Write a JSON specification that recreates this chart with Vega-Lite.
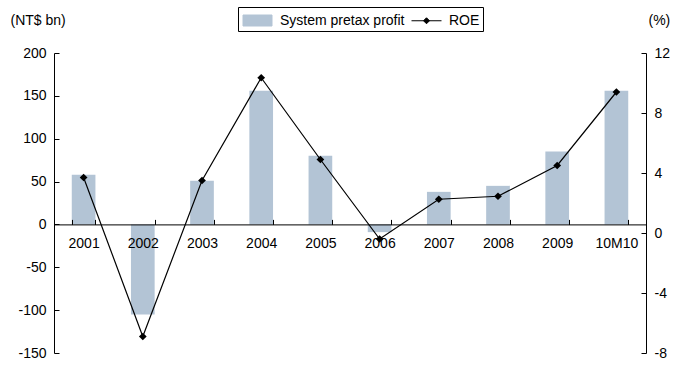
{
  "$schema": "https://vega.github.io/schema/vega-lite/v6.json",
  "autosize": "none",
  "width": 592,
  "height": 300,
  "padding": {"left": 54, "top": 53, "right": 38, "bottom": 30},
  "background": "white",
  "config": {
    "view": {"stroke": null},
    "font": "Liberation Sans",
    "axis": {
      "labelFont": "Liberation Sans",
      "labelFontSize": 14,
      "labelColor": "black",
      "titleFont": "Liberation Sans",
      "titleFontSize": 14,
      "titleFontWeight": "normal",
      "titleColor": "black",
      "domainColor": "black",
      "tickColor": "black",
      "tickWidth": 1,
      "grid": false
    }
  },
  "data": {
    "values": [
      {"year": "2001", "profit": 58, "roe": 3.7},
      {"year": "2002", "profit": -105, "roe": -6.9},
      {"year": "2003", "profit": 51, "roe": 3.5},
      {"year": "2004", "profit": 156, "roe": 10.35},
      {"year": "2005", "profit": 80, "roe": 4.9},
      {"year": "2006", "profit": -9, "roe": -0.4},
      {"year": "2007", "profit": 38, "roe": 2.25},
      {"year": "2008", "profit": 45, "roe": 2.45},
      {"year": "2009", "profit": 85, "roe": 4.5},
      {"year": "10M10", "profit": 156, "roe": 9.4}
    ]
  },
  "encoding": {
    "x": {
      "field": "year",
      "type": "nominal",
      "sort": null,
      "scale": {"paddingInner": 0.6, "paddingOuter": 0.3},
      "axis": {
        "title": null,
        "orient": "bottom",
        "offset": -128.6,
        "labelAngle": 0,
        "tickBand": "extent",
        "tickSize": -5,
        "labelPadding": 17,
        "zindex": 1
      }
    }
  },
  "layer": [
    {
      "mark": {"type": "bar"},
      "encoding": {
        "y": {
          "field": "profit",
          "type": "quantitative",
          "scale": {"domain": [-150, 200], "nice": false},
          "axis": {
            "values": [-150, -100, -50, 0, 50, 100, 150, 200],
            "labelExpr": "'' + datum.value",
            "tickSize": -5,
            "labelPadding": 13,
            "title": "(NT$ bn)",
            "titleAngle": 0,
            "titleAlign": "left",
            "titleBaseline": "middle",
            "titleX": -44,
            "titleY": -33
          }
        },
        "color": {
          "datum": "System pretax profit",
          "type": "nominal",
          "scale": {"domain": ["System pretax profit", "ROE"], "range": ["#b3c4d5", "#000000"]},
          "legend": {
            "title": null,
            "orient": "none",
            "legendX": 184,
            "legendY": -46,
            "direction": "horizontal",
            "strokeColor": "black",
            "padding": 3,
            "symbolSize": 400,
            "symbolOffset": 6,
            "labelFont": "Liberation Sans",
            "labelFontSize": 14,
            "labelColor": "black",
            "labelOffset": 12,
            "columnPadding": 4,
            "encode": {
              "symbols": {
                "update": {
                  "shape": {"signal": "datum.value === 'ROE' ? 'M-1.5,0H1.5M0,-0.3L0.3,0L0,0.3L-0.3,0Z' : 'M-1.45,-0.55H1.45V0.55H-1.45Z'"},
                  "fill": {"signal": "datum.value === 'ROE' ? 'black' : '#b3c4d5'"},
                  "stroke": {"signal": "datum.value === 'ROE' ? 'black' : '#b3c4d5'"},
                  "strokeWidth": {"value": 1},
                  "opacity": {"value": 1},
                  "fillOpacity": {"value": 1}
                }
              }
            }
          }
        }
      }
    },
    {
      "layer": [
        {
          "mark": {"type": "line", "color": "black", "strokeWidth": 1.2},
          "encoding": {"color": {"datum": "ROE", "type": "nominal"}}
        },
        {
          "mark": {"type": "point", "shape": "diamond", "filled": true, "size": 60, "opacity": 1, "color": "black"},
          "encoding": {}
        }
      ],
      "encoding": {
        "y": {
          "field": "roe",
          "type": "quantitative",
          "scale": {"domain": [-8, 12], "nice": false},
          "axis": {
            "orient": "right",
            "values": [-8, -4, 0, 4, 8, 12],
            "labelExpr": "'' + datum.value",
            "tickSize": -5,
            "labelPadding": 13,
            "title": "(%)",
            "titleAngle": 0,
            "titleAlign": "left",
            "titleBaseline": "middle",
            "titleX": 2,
            "titleY": -33
          }
        }
      }
    }
  ],
  "resolve": {"scale": {"y": "independent"}}
}
